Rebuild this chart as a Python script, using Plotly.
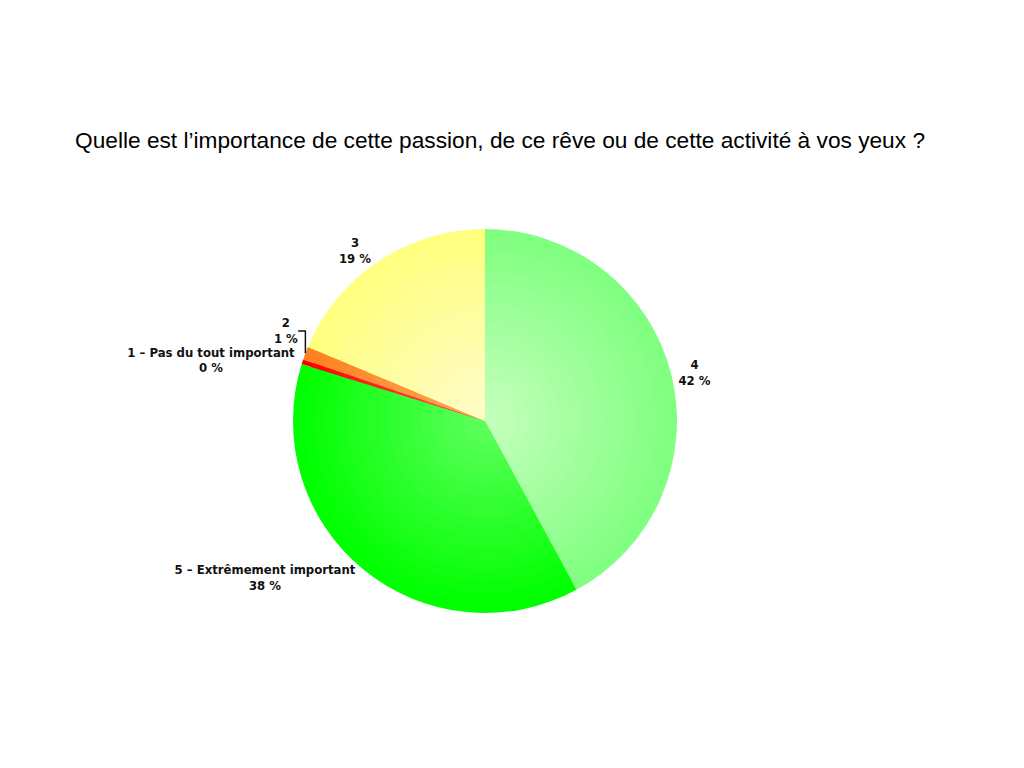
import plotly.graph_objects as go

# survey answers, clockwise from 12 o'clock
labels = ["4", "5 – Extrêmement important", "1 – Pas du tout important", "2", "3"]
values = [42.1, 37.7, 0.4, 1.1, 18.7]  # percent of answers

edge_colors = ["#80ff80", "#00ff00", "#ff0000", "#ff8020", "#ffff80"]
centre_colors = ["#c4ffbc", "#5cff5c", "#ff5a5a", "#ffaa55", "#fffcc8"]

title = "Quelle est l’importance de cette passion, de ce rêve ou de cette activité à vos yeux ?"


def mix(c1, c2, t):
    a = [int(c1[i:i + 2], 16) for i in (1, 3, 5)]
    b = [int(c2[i:i + 2], 16) for i in (1, 3, 5)]
    return "rgb({},{},{})".format(*[round(a[k] + (b[k] - a[k]) * t) for k in range(3)])


W, H = 1024, 768
off = 8  # the page body adds an 8px margin
cx, cy, r = (485 - off) / W, 1 - (421 - off) / H, 192  # pie centre (paper) and radius (px)
rx, ry = r / W, r / H

fig = go.Figure()

# radial gradient: stack of shrinking pies, lighter towards the centre
n_layers = 18
for i in range(n_layers):
    f = 1 - i / n_layers
    t = i / (n_layers - 1)
    first = i == 0
    fig.add_trace(go.Pie(
        labels=labels,
        values=values,
        sort=False,
        direction="clockwise",
        rotation=0,
        domain=dict(x=[cx - f * rx, cx + f * rx], y=[cy - f * ry, cy + f * ry]),
        marker=dict(colors=[mix(e, c, t) for e, c in zip(edge_colors, centre_colors)],
                    line=dict(width=0)),
        text=[f"{lab}<br>{round(v)} %" for lab, v in zip(labels, values)] if first else None,
        textinfo="text" if first else "none",
        textposition="outside",
        outsidetextfont=dict(family="DejaVu Sans", size=11.7, color="#111111", weight="bold"),
        automargin=False,
        hoverinfo="label+percent" if first else "skip",
        showlegend=False,
    ))

fig.update_layout(
    width=W, height=H,
    margin=dict(l=0, r=0, t=0, b=0),
    paper_bgcolor="white",
    plot_bgcolor="white",
    showlegend=False,
    title=dict(text=title, x=(75 - off) / W, xanchor="left", y=1 - (140 - off) / H, yanchor="middle",
               font=dict(family="Liberation Sans", size=22.7, color="black")),
)

fig.write_html("out.html")
